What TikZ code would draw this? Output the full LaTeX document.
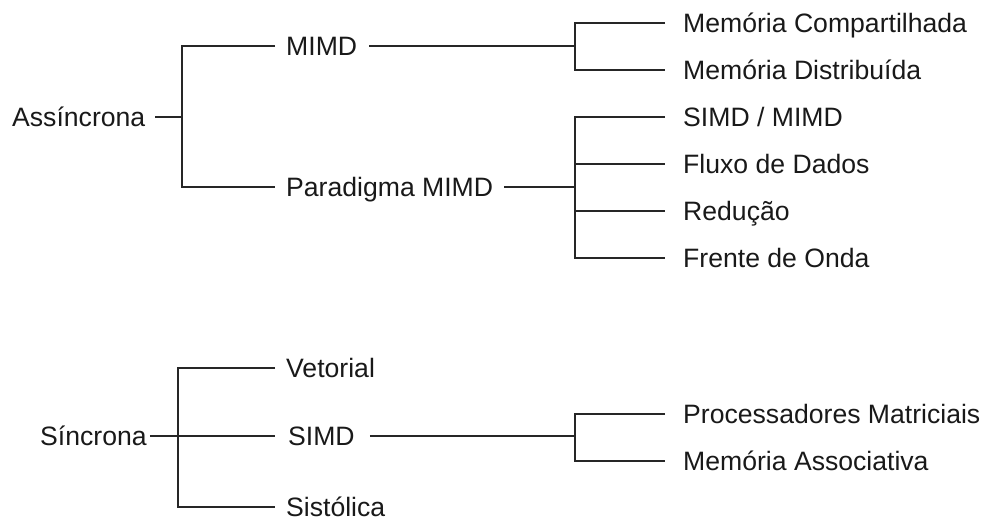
\documentclass[tikz,border=0pt]{standalone}
\usepackage{fontspec}
\setmainfont{Liberation Sans}
\begin{document}
\begin{tikzpicture}[x=1pt,y=-1pt,
  lbl/.style={anchor=west,inner sep=0pt,text height=19pt,text depth=0pt,
    font=\fontsize{26.6pt}{32pt}\selectfont,text=black!90},
  conn/.style={line width=1.2pt,draw=black!85}]
\useasboundingbox (0,0) rectangle (983,521);

% asynchronous branch
\node[lbl] (asy)  at (12,117)  {Assíncrona};
\node[lbl] (mimd) at (286,46)  {MIMD};
\node[lbl] (par)  at (286,187) {Paradigma MIMD};
\node[lbl] (mc)   at (683,23)  {Memória Compartilhada};
\node[lbl] (md)   at (683,70)  {Memória Distribuída};
\node[lbl] (sm)   at (683,117) {SIMD / MIMD};
\node[lbl] (fd)   at (683,164) {Fluxo de Dados};
\node[lbl] (red)  at (683,211) {Redução};
\node[lbl] (fo)   at (683,258) {Frente de Onda};

% synchronous branch
\node[lbl] (sin)  at (40,436)  {Síncrona};
\node[lbl] (vet)  at (286,368) {Vetorial};
\node[lbl] (simd) at (288,436) {SIMD};
\node[lbl] (sis)  at (286,507) {Sistólica};
\node[lbl] (pm)   at (683,414) {Processadores Matriciais};
\node[lbl] (ma)   at (683,461) {Memória Associativa};

% junction points of the brackets
\coordinate (ja) at (182,117);
\coordinate (jm) at (575,46);
\coordinate (jp) at (575,187);
\coordinate (js) at (178,436);
\coordinate (jd) at (575,436);

% connectors
\draw[conn] ([xshift=10pt]asy.east) -- (ja);
\draw[conn] ([xshift=-11pt]mimd.west) -| (ja) |- ([xshift=-11pt]par.west);

\draw[conn] ([xshift=12pt]mimd.east) -- (jm);
\draw[conn] ([xshift=-18pt]mc.west) -| (jm) |- ([xshift=-18pt]md.west);

\draw[conn] ([xshift=11pt]par.east) -- (jp);
\draw[conn] ([xshift=-18pt]sm.west) -| (jp) |- ([xshift=-18pt]fo.west);
\draw[conn] (jp |- fd.west) -- ([xshift=-18pt]fd.west);
\draw[conn] (jp |- red.west) -- ([xshift=-18pt]red.west);

\draw[conn] ([xshift=3pt]sin.east) -- ([xshift=-13pt]simd.west);
\draw[conn] ([xshift=-11pt]vet.west) -| (js) |- ([xshift=-11pt]sis.west);

\draw[conn] ([xshift=15pt]simd.east) -- (jd);
\draw[conn] ([xshift=-18pt]pm.west) -| (jd) |- ([xshift=-18pt]ma.west);
\end{tikzpicture}
\end{document}
